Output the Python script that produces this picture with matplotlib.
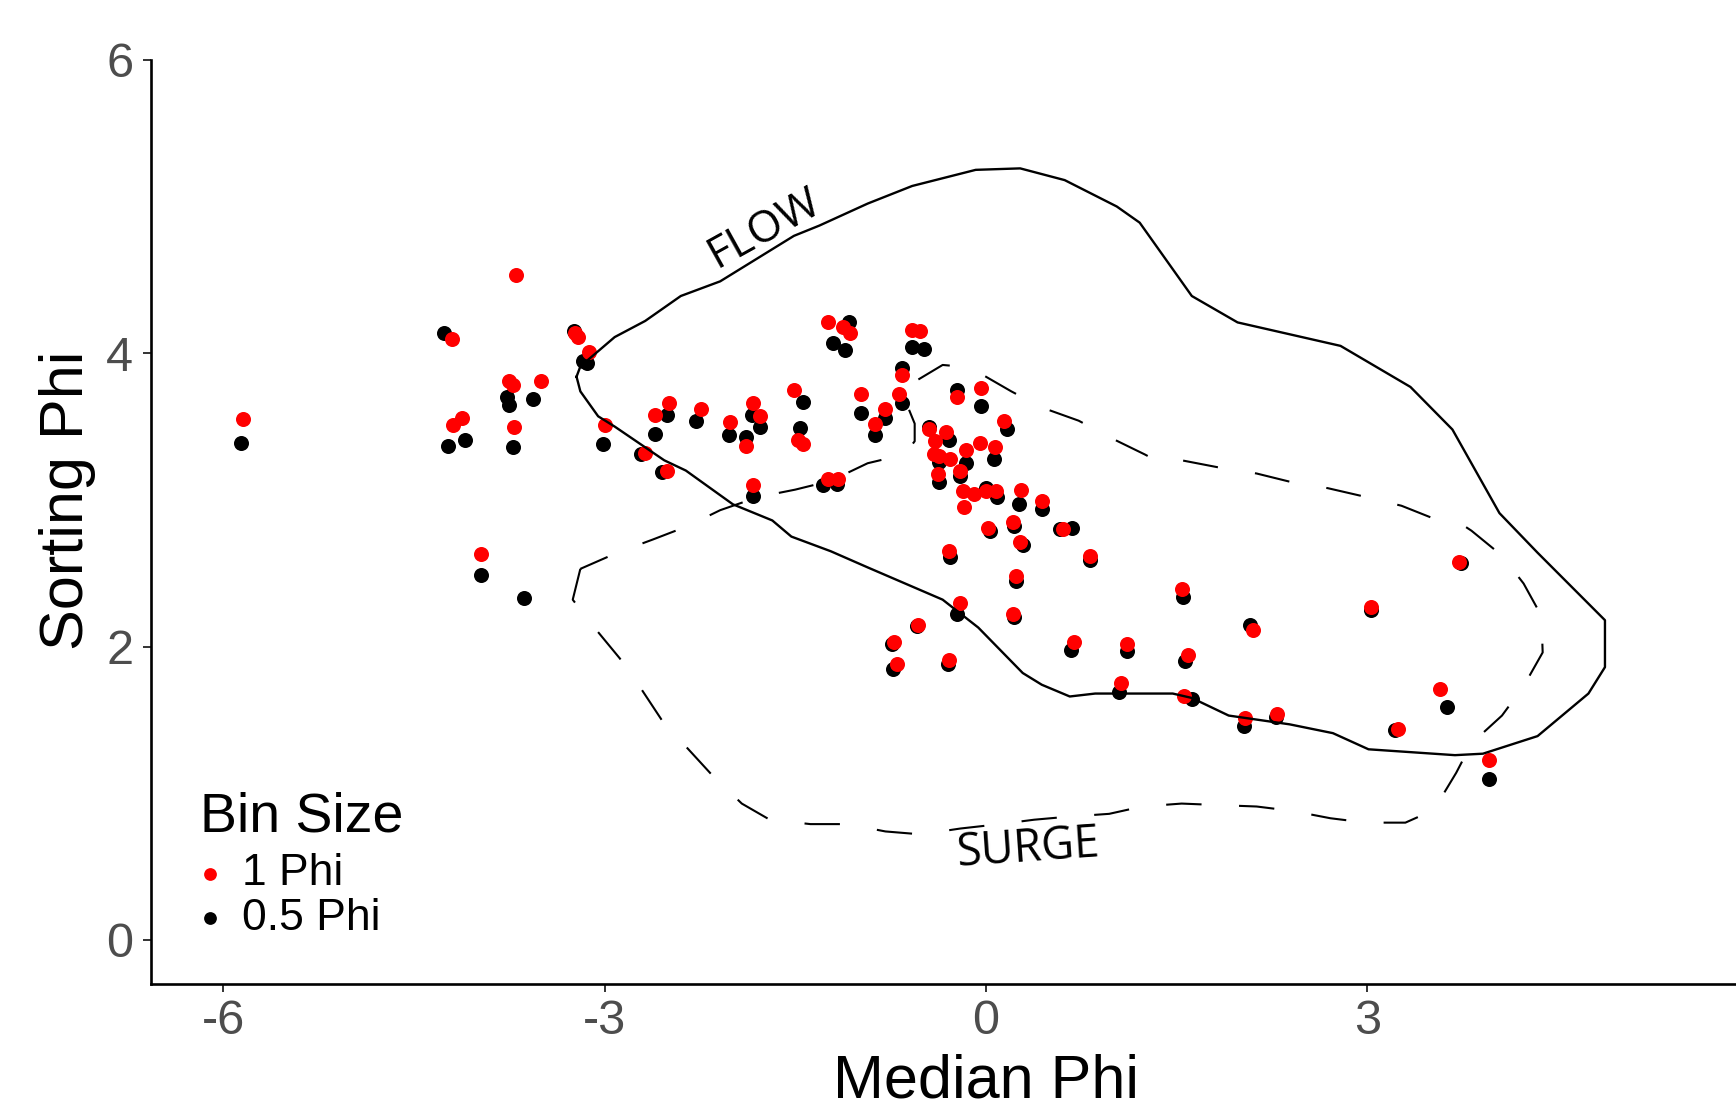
import matplotlib.pyplot as plt

# Median Phi (x) and Sorting Phi (y) for each bin size
phi1_median = [-5.84, -4.20, -3.70, -3.23, -3.21, -3.12, -3.75, -3.72, -3.50, -4.12, -4.19, -3.71, -3.97,
               -1.24, -1.12, -1.07, -0.58, -0.52, -0.66, -0.68, -1.51, -0.98, -0.79, -0.87, -2.49, -2.60,
               -2.24, -1.83, -1.78, -2.01, -3.00, -1.89, -1.48, -1.44, -2.68, -2.51, -1.83, -1.24, -1.16,
               -0.53, -0.72,
               -0.45, -0.31, -0.40, -0.41, -0.37, -0.28, -0.38, -0.20, -0.16, -0.05, 0.07, 0.14, -0.23,
               -0.04, -0.18, -0.09, 0.00, 0.08, 0.28, 0.44, -0.17, 0.02, 0.21, 0.61, 0.27, -0.29, 0.82, 0.24,
               -0.20, 0.21, -0.70, -0.29, 0.69, 1.11, 1.54, 1.59, 1.06, 1.56, 2.04, 2.10,
               3.03, 3.72, 3.57, 3.24, 3.96, 2.29]
phi1_sorting = [3.55, 4.10, 4.53, 4.14, 4.11, 4.01, 3.81, 3.78, 3.81, 3.56, 3.51, 3.50, 2.63,
                4.21, 4.18, 4.14, 4.16, 4.15, 3.85, 3.72, 3.75, 3.72, 3.62, 3.52, 3.66, 3.58,
                3.62, 3.66, 3.57, 3.53, 3.51, 3.37, 3.41, 3.38, 3.32, 3.20, 3.10, 3.14, 3.14,
                2.15, 2.03,
                3.48, 3.46, 3.40, 3.31, 3.30, 3.28, 3.18, 3.20, 3.34, 3.39, 3.36, 3.54, 3.70,
                3.76, 3.06, 3.04, 3.06, 3.06, 3.07, 2.99, 2.95, 2.81, 2.85, 2.80, 2.71, 2.65, 2.62, 2.48,
                2.30, 2.22, 1.88, 1.91, 2.03, 2.02, 2.39, 1.94, 1.75, 1.66, 1.51, 2.11,
                2.27, 2.58, 1.71, 1.44, 1.23, 1.54]

phi05_median = [-5.86, -4.26, -3.24, -3.17, -3.14, -3.77, -3.75, -3.56, -4.10, -4.23, -3.72, -3.97, -3.63,
                -1.08, -1.20, -1.11, -0.58, -0.49, -0.66, -0.66, -1.44, -0.98, -0.79, -0.87, -2.51, -2.60,
                -2.28, -1.84, -1.78, -2.02, -1.89, -1.46, -3.01, -2.71, -2.55, -1.83, -1.28, -1.17,
                -0.54, -0.74,
                -0.45, -0.29, -0.37, -0.16, -0.37, -0.20, 0.06, 0.17, -0.23, -0.04, 0.00, 0.09, 0.26,
                0.44, 0.22, 0.68, 0.58, 0.03, 0.29, -0.28, 0.82, 0.24,
                -0.23, 0.22, -0.73, -0.30, 0.67, 1.11, 1.55, 1.57, 1.05, 1.62, 2.03, 2.08,
                3.03, 3.74, 3.63, 3.22, 3.96, 2.28]
phi05_sorting = [3.39, 4.14, 4.15, 3.95, 3.93, 3.70, 3.65, 3.69, 3.41, 3.37, 3.36, 2.49, 2.33,
                 4.21, 4.07, 4.02, 4.04, 4.03, 3.90, 3.66, 3.67, 3.59, 3.56, 3.44, 3.58, 3.45,
                 3.54, 3.58, 3.50, 3.44, 3.43, 3.49, 3.38, 3.31, 3.19, 3.03, 3.10, 3.11,
                 2.14, 2.02,
                 3.50, 3.41, 3.26, 3.25, 3.12, 3.16, 3.28, 3.48, 3.75, 3.64, 3.08, 3.02, 2.97,
                 2.94, 2.82, 2.81, 2.80, 2.79, 2.69, 2.61, 2.59, 2.45,
                 2.22, 2.20, 1.85, 1.88, 1.98, 1.97, 2.34, 1.90, 1.69, 1.64, 1.46, 2.15,
                 2.25, 2.57, 1.59, 1.43, 1.10, 1.52]

# FLOW and SURGE fields (closed outlines)
flow_x = [-3.22, -3.19, -2.92, -2.68, -2.40, -2.09, -1.51, -1.31, -0.93, -0.58, -0.08, 0.27, 0.62, 1.03,
          1.21, 1.62, 1.98, 2.79, 3.34, 3.67, 4.04, 4.34, 4.87, 4.87, 4.74, 4.34, 3.91, 3.69, 3.01, 2.73,
          2.39, 1.91, 1.62, 1.47, 0.86, 0.66, 0.44, 0.29, -0.06, -0.34, -0.93, -1.22, -1.53, -1.68, -1.99,
          -2.36, -2.53, -2.92, -3.05, -3.19, -3.22]
flow_y = [3.84, 3.91, 4.11, 4.22, 4.39, 4.49, 4.80, 4.87, 5.02, 5.14, 5.25, 5.26, 5.18, 5.00,
          4.89, 4.39, 4.21, 4.05, 3.77, 3.48, 2.91, 2.64, 2.18, 1.86, 1.68, 1.39, 1.27, 1.26, 1.30, 1.41,
          1.47, 1.53, 1.65, 1.68, 1.68, 1.66, 1.74, 1.82, 2.13, 2.32, 2.54, 2.65, 2.75, 2.86, 2.97,
          3.20, 3.27, 3.50, 3.57, 3.74, 3.84]

surge_x = [-3.19, -3.25, -3.08, -2.88, -2.71, -2.55, -2.34, -2.16, -1.92, -1.70, -1.38, -1.09, -0.79, -0.51,
           -0.20, 0.11, 0.38, 0.64, 0.97, 1.23, 1.54, 1.82, 2.13, 2.41, 2.71, 2.99, 3.30, 3.43, 3.54, 3.70,
           3.82, 4.06, 4.23, 4.38, 4.37, 4.23, 4.06, 3.82, 3.75, 3.56, 3.27, 2.99, 2.69, 2.41, 2.13, 1.84,
           1.54, 1.38, 1.25, 0.99, 0.73, 0.44, 0.20, -0.06, -0.21, -0.34, -0.61, -0.64, -0.56, -0.56,
           -0.64, -0.93, -1.22, -1.50, -1.79, -2.09, -2.35, -2.62, -2.90, -3.19]
surge_y = [2.53, 2.32, 2.13, 1.92, 1.71, 1.50, 1.30, 1.13, 0.93, 0.82, 0.79, 0.79, 0.74, 0.72,
           0.76, 0.79, 0.82, 0.84, 0.86, 0.91, 0.93, 0.92, 0.91, 0.88, 0.83, 0.80, 0.80, 0.85, 0.91, 1.14,
           1.34, 1.53, 1.73, 1.96, 2.21, 2.43, 2.62, 2.79, 2.83, 2.86, 2.96, 3.02, 3.08, 3.12, 3.18, 3.22,
           3.27, 3.25, 3.31, 3.42, 3.54, 3.63, 3.74, 3.87, 3.91, 3.92, 3.78, 3.69, 3.52, 3.40,
           3.31, 3.25, 3.13, 3.07, 3.02, 2.93, 2.82, 2.73, 2.64, 2.53]

plt.rcParams['font.family'] = ['Liberation Sans', 'DejaVu Sans']
plt.rcParams['axes.unicode_minus'] = False

fig = plt.figure(figsize=(17.36, 11.06), dpi=100)
# the panel runs past the right edge of the picture, as in the original
ax = fig.add_axes([0.0868, 0.1103, 0.9622, 0.8754])

ax.scatter(phi05_median, phi05_sorting, s=117, color='black', linewidths=0, label='0.5 Phi', zorder=2)
ax.scatter(phi1_median, phi1_sorting, s=117, color='red', linewidths=0, label='1 Phi', zorder=3)

ax.plot(flow_x, flow_y, color='black', lw=1.7, zorder=4)
ax.plot(surge_x, surge_y, color='black', lw=1.5, linestyle=(0, (17, 18)), zorder=4)

ax.text(-1.74, 4.85, 'FLOW', rotation=29, fontsize=32, family='Open Sans',
        ha='center', va='center', rotation_mode='anchor')
ax.text(0.33, 0.62, 'SURGE', rotation=4, fontsize=32.5, family='Open Sans',
        ha='center', va='center', rotation_mode='anchor')

ax.set_xlim(-6.57, 6.57)
ax.set_ylim(-0.3, 6.3)
ax.set_xticks([-6, -3, 0, 3, 6])
ax.set_yticks([0, 2, 4, 6])
ax.spines['top'].set_visible(False)
ax.spines['right'].set_visible(False)
ax.spines['left'].set_bounds(-0.3, 6)
for sp in ['left', 'bottom']:
    ax.spines[sp].set_linewidth(1.9)
ax.tick_params(labelsize=35, labelcolor='#4D4D4D', color='#333333', length=6, width=1.4)
ax.tick_params(axis='x', pad=5)
ax.tick_params(axis='y', pad=6.5)

ax.set_xlabel('Median Phi', fontsize=44, labelpad=6.5)
ax.set_ylabel('Sorting Phi', fontsize=44, labelpad=7.5)

h, l = ax.get_legend_handles_labels()
leg = ax.legend(h[::-1], l[::-1], title='Bin Size', loc='upper left',
                bbox_to_anchor=(200 / 1736, 1 - 791 / 1106), bbox_transform=fig.transFigure,
                frameon=False, fontsize=32, title_fontsize=40, alignment='left',
                markerscale=0.85, handlelength=0.45, handletextpad=0.5,
                labelspacing=0.08, borderpad=0, borderaxespad=0, scatterpoints=1)
leg._legend_box.sep = 7.5  # a bit more room under the title

plt.savefig('out.png')
